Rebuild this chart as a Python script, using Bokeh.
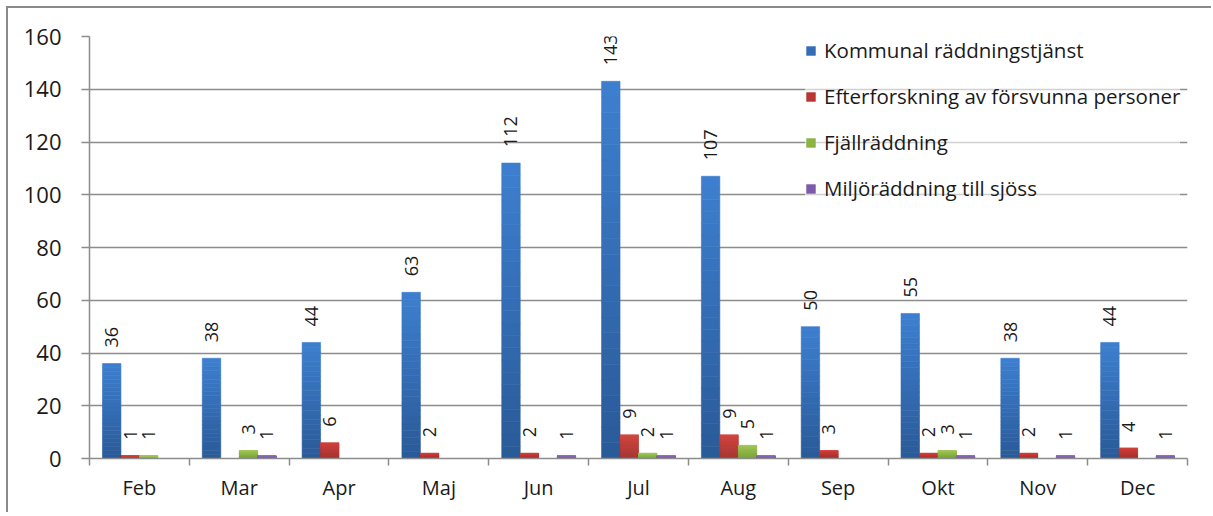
import math
from bokeh.plotting import figure
from bokeh.models import (ColumnDataSource, Range1d, FixedTicker, Legend, LegendItem)
from bokeh.core.properties import value
from bokeh.embed import file_html
from bokeh.resources import INLINE

months = ["Feb", "Mar", "Apr", "Maj", "Jun", "Jul", "Aug", "Sep", "Okt", "Nov", "Dec"]
series_names = ["Kommunal räddningstjänst", "Efterforskning av försvunna personer",
                "Fjällräddning", "Miljöräddning till sjöss"]
kommunal = [36, 38, 44, 63, 112, 143, 107, 50, 55, 38, 44]
efterforskning = [1, 0, 6, 2, 2, 9, 9, 3, 2, 2, 4]
fjall = [1, 3, 0, 0, 0, 2, 5, 0, 3, 0, 0]
miljo = [0, 1, 0, 0, 1, 1, 1, 0, 1, 1, 1]
series_values = [kommunal, efterforskning, fjall, miljo]
y_ticks = [0, 20, 40, 60, 80, 100, 120, 140, 160]

# colours: (top, bottom) of each bar gradient
grad = [((61, 127, 207), (42, 90, 152)),
        ((208, 62, 57), (160, 46, 43)),
        ((158, 198, 82), (118, 160, 54)),
        ((138, 102, 184), (108, 80, 150))]

FONT = "Open Sans"
TXT = "#1a1a1a"
GRID = "#8c8c8c"

p = figure(width=1205, height=506, output_backend="svg", toolbar_location=None,
           x_range=Range1d(0, len(months)), y_range=Range1d(0, 160),
           min_border_left=81, min_border_top=28, min_border_right=26, min_border_bottom=56)
p.styles = {"border-top": "2px solid #8a8a8a", "border-left": "2px solid #8a8a8a",
            "margin-top": "6px", "margin-left": "6px"}
p.outline_line_color = None
p.background_fill_color = "white"
p.border_fill_color = "white"

# axes
p.yaxis.ticker = FixedTicker(ticks=y_ticks)
p.yaxis.major_tick_out = 8
p.yaxis.major_tick_in = 0
p.yaxis.minor_tick_line_color = None
p.yaxis.major_label_standoff = 20
p.yaxis.major_label_text_font = FONT
p.yaxis.major_label_text_font_size = "22px"
p.yaxis.major_label_text_color = TXT
p.yaxis.axis_line_color = GRID
p.yaxis.axis_line_width = 1.5
p.yaxis.major_tick_line_color = GRID
p.yaxis.major_tick_line_width = 1.5

centers = [i + 0.5 for i in range(len(months))]
p.xaxis.ticker = FixedTicker(ticks=centers, minor_ticks=list(range(len(months) + 1)))
p.xaxis.major_label_overrides = {c: m for c, m in zip(centers, months)}
p.xaxis.major_tick_line_color = None
p.xaxis.major_tick_out = 0
p.xaxis.major_tick_in = 0
p.xaxis.minor_tick_out = 7
p.xaxis.minor_tick_in = 0
p.xaxis.minor_tick_line_color = GRID
p.xaxis.minor_tick_line_width = 1.5
p.xaxis.axis_line_color = GRID
p.xaxis.axis_line_width = 1.5
p.xaxis.major_label_standoff = 8
p.xaxis.major_label_text_font = FONT
p.xaxis.major_label_text_font_size = "20px"
p.xaxis.major_label_text_color = TXT

p.xgrid.grid_line_color = None
p.ygrid.grid_line_color = GRID
p.ygrid.grid_line_width = 1.5
p.ygrid.ticker = FixedTicker(ticks=y_ticks)

bar_w = 0.185
offsets = [-1.5 * bar_w, -0.5 * bar_w, 0.5 * bar_w, 1.5 * bar_w]
N = 24

legend_items = []
for s, (name, vals) in enumerate(zip(series_names, series_values)):
    xs = [c + offsets[s] for c in centers]
    top_c, bot_c = grad[s]
    mid_r = None
    for k in range(N):
        t = (k + 0.5) / N
        col = tuple(int(round(bot_c[j] + (top_c[j] - bot_c[j]) * t)) for j in range(3))
        col_hex = "#%02x%02x%02x" % col
        src = ColumnDataSource(dict(
            x=xs,
            bottom=[v * k / N for v in vals],
            top=[v * (k + 1) / N for v in vals]))
        r = p.vbar(x="x", bottom="bottom", top="top", width=bar_w, source=src,
                   fill_color=col_hex, line_color=col_hex, line_width=0.6)
        if k == N // 2:
            mid_r = r
    legend_items.append(LegendItem(label=name, renderers=[mid_r]))

    # data labels for non-zero values
    lx = [x for x, v in zip(xs, vals) if v > 0]
    lv = [v for v in vals if v > 0]
    lsrc = ColumnDataSource(dict(x=lx, y=lv, t=[str(v) for v in lv]))
    p.text(x="x", y="y", text="t", source=lsrc, angle=math.pi / 2,
           text_align="left", text_baseline="middle", y_offset=-16,
           text_font=value(FONT), text_font_size="18px", text_color=TXT)

legend = Legend(items=legend_items, location=(716, 256), orientation="vertical",
                glyph_width=11, glyph_height=11, label_height=28, spacing=18,
                padding=0, margin=0, label_standoff=8,
                label_text_font=FONT, label_text_font_size="20.5px", label_text_color=TXT,
                background_fill_color="white", background_fill_alpha=0.6,
                border_line_color=None)
p.add_layout(legend)

open("out.html", "w").write(file_html(p, INLINE))
